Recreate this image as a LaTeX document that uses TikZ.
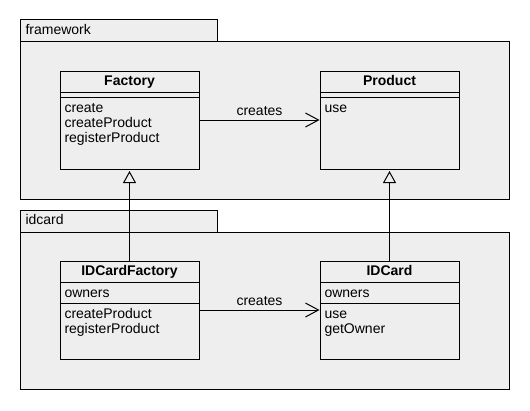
\documentclass[tikz,border=0pt]{standalone}
\usepackage{fontspec}
\setmainfont{Liberation Sans}
\usetikzlibrary{positioning,calc,arrows.meta}
\definecolor{pkgfill}{HTML}{EEEEEE}
\definecolor{classfill}{HTML}{EEEEEE}

\begin{document}
\begin{tikzpicture}[x=0.75pt,y=-0.75pt,line width=0.75pt,
  font=\fontsize{10.5}{11.25}\selectfont,
  pkg/.style={draw=black, fill=pkgfill},
  classbox/.style={draw=black, fill=classfill, minimum width=104.25pt, minimum height=73.5pt, inner sep=0pt},
  member/.style={anchor=west, inner sep=0pt, text height=7.5pt, text depth=2pt},
  title/.style={inner sep=0pt, text height=7.5pt, text depth=2pt, font=\fontsize{10.5}{11.25}\selectfont\bfseries},
  creates/.style={draw, -{Straight Barb[length=9.75pt,width=10.5pt]}},
  extends/.style={draw, -{Triangle[open,length=9pt,width=9.75pt]}, shorten >=1.125pt}]
  \useasboundingbox (0,0) rectangle (530,410);

  % #1 is name
  % #2, #3 is center
  % #4 is title
  % #5 is attribute (may be empty)
  % #6 is list of operations
  \newcommand{\umlclass}[6]{
    \node[classbox] (#1) at (#2,#3) {};
    \node[title] (#1-title) at ($(#1.north)+(0,11)$) {#4};
    \draw ($(#1.north west)+(0,22)$) -- ($(#1.north east)+(0,22)$);
    \if\relax\detokenize{#5}\relax
      \draw ($(#1.north west)+(0,27)$) -- ($(#1.north east)+(0,27)$);
      \def\mtop{27}
    \else
      \node[member] (#1-attr) at ($(#1.north west)+(4.5,33)$) {#5};
      \draw ($(#1.north west)+(0,43)$) -- ($(#1.north east)+(0,43)$);
      \def\mtop{43}
    \fi
    \foreach \meth [count=\i] in {#6}
      \node[member] (#1-op\i) at ($(#1.north west)+(4.5,{\mtop+11.5+15*(\i-1)})$) {\meth};
  }

  % framework package
  \path[pkg] (20,20) rectangle (217,42);
  \path[pkg] (20,42) rectangle (509,199);
  \node[member] (framework) at (25,31) {framework};

  % idcard package
  \path[pkg] (20,210) rectangle (217,232);
  \path[pkg] (20,232) rectangle (509,389);
  \node[member] (idcardpkg) at (25,221) {idcard};

  \umlclass{factory}{129.5}{120}{Factory}{}{create,createProduct,registerProduct}
  \umlclass{product}{389.5}{120}{Product}{}{use}
  \umlclass{idfactory}{129.5}{310}{IDCardFactory}{owners}{createProduct,registerProduct}
  \umlclass{idcard}{389.5}{310}{IDCard}{owners}{use,getOwner}

  \draw[creates] (factory) -- node[anchor=base, yshift=3.4pt, inner sep=0pt] (lbl1) {creates} (product);
  \draw[creates] (idfactory) -- node[anchor=base, yshift=3.4pt, inner sep=0pt] (lbl2) {creates} (idcard);

  \draw[extends] (idfactory) -- (factory);
  \draw[extends] (idcard) -- (product);

\end{tikzpicture}
\end{document}
